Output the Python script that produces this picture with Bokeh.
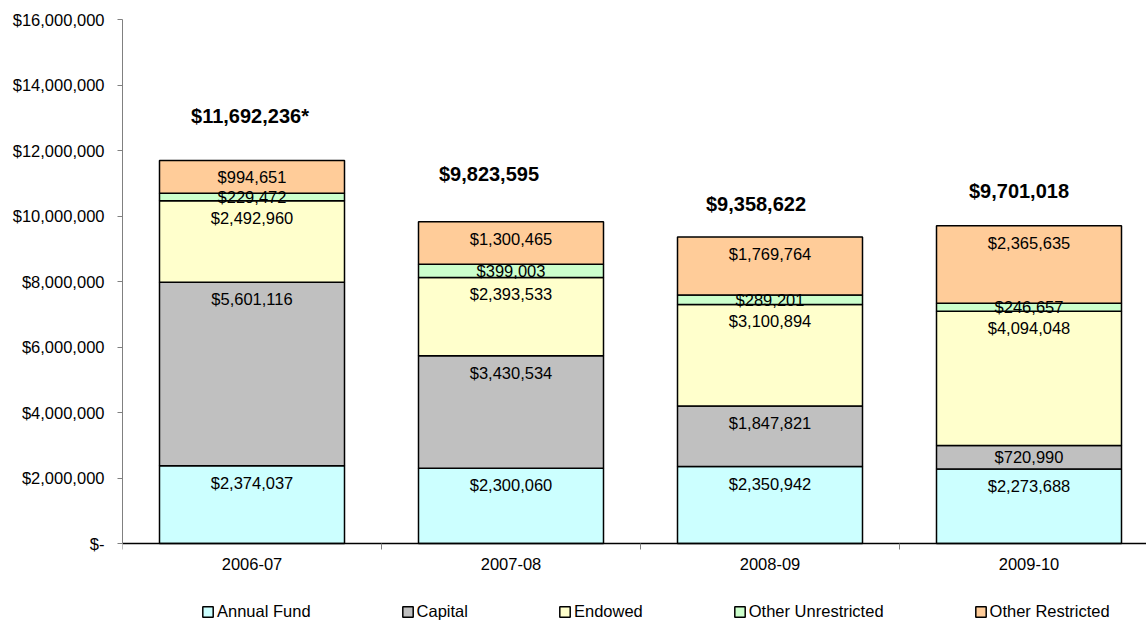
import numpy as np
from bokeh.plotting import figure
from bokeh.models import (ColumnDataSource, Range1d, FixedTicker, NumeralTickFormatter,
                          Legend, LegendItem)
from bokeh.core.properties import value
from bokeh.embed import file_html
from bokeh.resources import INLINE

# ---------------- data ----------------
categories = ["2006-07", "2007-08", "2008-09", "2009-10"]
series_names = ["Annual Fund", "Capital", "Endowed", "Other Unrestricted", "Other Restricted"]
annual_fund = [2374037, 2300060, 2350942, 2273688]
capital = [5601116, 3430534, 1847821, 720990]
endowed = [2492960, 2393533, 3100894, 4094048]
other_unrestricted = [229472, 399003, 289201, 246657]
other_restricted = [994651, 1300465, 1769764, 2365635]
total_suffix = ["*", "", "", ""]
y_ticks = [0, 2000000, 4000000, 6000000, 8000000, 10000000, 12000000, 14000000, 16000000]

# ---------------- styles ----------------
colors = ["#CCFFFF", "#C0C0C0", "#FFFFCC", "#CCFFCC", "#FFCC99"]
FONT = "Liberation Sans"
PLOT_H = 524            # pixels from $0 to $16M
BOTTOM_PX = 79          # room under the $0 line for category labels and legend
FRAME_W, FRAME_H = 1024, PLOT_H + BOTTOM_PX
CAT_PX = 259.0
Y_MAX = 16000000
ppu = PLOT_H / Y_MAX
BAR_W = 185 / CAT_PX
total_dx_px = [-2, -22, -14, -10]
total_dy_px = [45, 48, 33, 35]

series = [annual_fund, capital, endowed, other_unrestricted, other_restricted]
xs = [i + 0.5 for i in range(len(categories))]
data = {"x": xs}
for name, vals in zip(series_names, series):
    data[name] = vals
source = ColumnDataSource(data)

p = figure(frame_width=FRAME_W, frame_height=FRAME_H,
           x_range=Range1d(0, FRAME_W / CAT_PX),
           y_range=Range1d(-BOTTOM_PX / ppu, Y_MAX),
           output_backend="svg", toolbar_location=None,
           min_border_left=122, min_border_right=0, min_border_top=19, min_border_bottom=0)
p.grid.visible = False
p.outline_line_color = None
p.background_fill_color = "white"
p.border_fill_color = "white"

renderers = p.vbar_stack(series_names, x="x", width=BAR_W, color=colors, source=source,
                         line_color="black", line_width=1.5)

# segment labels
arr = np.array(series, dtype=float)
cum = np.cumsum(arr, axis=0)
lx, ly, lt = [], [], []
for s in range(arr.shape[0]):
    for i in range(arr.shape[1]):
        top = cum[s, i]
        bottom = top - arr[s, i]
        h_px = arr[s, i] * ppu
        if h_px >= 34:
            y = top - 17 / ppu
        else:
            y = (top + bottom) / 2
        lx.append(xs[i]); ly.append(y); lt.append("${:,}".format(int(arr[s, i])))
p.text(x=lx, y=ly, text=lt, text_align="center", text_baseline="middle",
       text_font=value(FONT), text_font_size="16.5px", text_color="black")

# totals
totals = cum[-1]
tx = [xs[i] + total_dx_px[i] / CAT_PX for i in range(len(categories))]
ty = [totals[i] + total_dy_px[i] / ppu for i in range(len(categories))]
tt = ["${:,}{}".format(int(totals[i]), total_suffix[i]) for i in range(len(categories))]
p.text(x=tx, y=ty, text=tt, text_align="center", text_baseline="middle",
       text_font=value(FONT), text_font_size="20px", text_font_style="bold", text_color="black")

# x axis (drawn at the $0 line)
xa = p.xaxis[0]
xa.fixed_location = 0
xa.ticker = FixedTicker(ticks=xs, minor_ticks=list(range(len(categories) + 1)))
xa.major_label_overrides = {x: c for x, c in zip(xs, categories)}
xa.major_tick_line_color = None
xa.major_tick_out = 0
xa.major_tick_in = 0
xa.minor_tick_out = 6
xa.minor_tick_in = 0
xa.minor_tick_line_color = "#808080"
xa.axis_line_color = "black"
xa.axis_line_width = 1.5
xa.major_label_standoff = 8
xa.major_label_text_font = FONT
xa.major_label_text_font_size = "16.5px"
xa.major_label_text_color = "black"

# y axis
ya = p.yaxis[0]
ya.bounds = (0, Y_MAX)
ya.ticker = FixedTicker(ticks=y_ticks)
ya.formatter = NumeralTickFormatter(format="$0,0")
ya.major_label_overrides = {0: "$-"}
ya.major_tick_out = 5
ya.major_tick_in = 0
ya.minor_tick_line_color = None
ya.axis_line_color = "#808080"
ya.major_tick_line_color = "#808080"
ya.major_label_standoff = 13
ya.major_label_text_font = FONT
ya.major_label_text_font_size = "16.5px"
ya.major_label_text_color = "black"

# legend (inside the lower strip of the frame)
leg = Legend(items=[LegendItem(label=n, renderers=[r]) for n, r in zip(series_names, renderers)],
             location=(79, 1), orientation="horizontal", border_line_color=None,
             background_fill_alpha=0, glyph_width=13, glyph_height=13, label_standoff=3,
             padding=0, margin=0, spacing=90, label_text_font=FONT,
             label_text_font_size="16.5px", label_text_color="black", label_height=18)
p.add_layout(leg)

open("out.html", "w").write(file_html(p, INLINE))
